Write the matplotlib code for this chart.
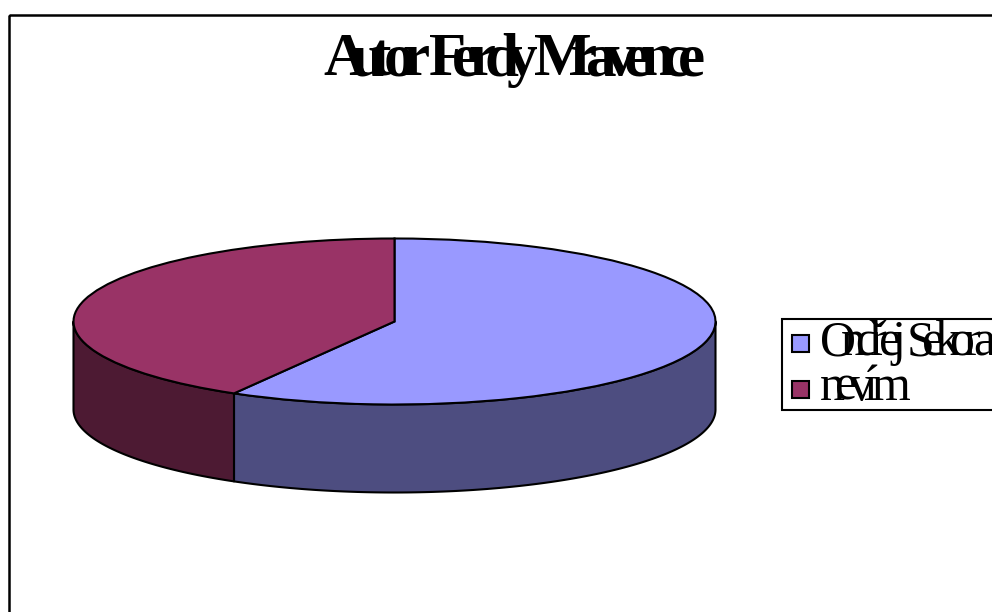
import numpy as np
import matplotlib
matplotlib.use("Agg")
import matplotlib.pyplot as plt
from matplotlib.font_manager import findfont, get_font
from matplotlib.ft2font import LoadFlags
from matplotlib.patches import Polygon, Rectangle
from matplotlib.text import Text
from matplotlib.transforms import Bbox

TITLE = "Autor Ferdy Mravence"
CATEGORIES = ["Ondřej Sekora", "nevím"]
VALUES = [7, 5]
TOP_COLORS = ["#9999FF", "#993366"]
SIDE_COLORS = ["#4D4D80", "#4D1A33"]

W, H = 992, 612
SERIF = "Liberation Serif"


class TightText(Text):
    """One text whose glyph advances are squeezed to fit a given pixel width."""

    def __init__(self, x, y, s, width_px, **kw):
        super().__init__(x, y, s, **kw)
        self.width_px = width_px

    def _advances(self):
        fp = self.get_fontproperties()
        font = get_font(findfont(fp))
        font.set_size(fp.get_size_in_points(), self.get_figure(root=True).dpi)
        adv = [font.load_char(ord(c), flags=LoadFlags.NO_HINTING).linearHoriAdvance / 65536
               for c in self.get_text()]
        return np.array(adv)

    def draw(self, renderer):
        adv = self._advances()
        scale = self.width_px / adv.sum()
        x0, y0 = self.get_transform().transform(self.get_position())
        gc = renderer.new_gc()
        gc.set_foreground(self.get_color())
        gc.set_antialiased(True)
        pos = x0
        for c, a in zip(self.get_text(), adv):
            if c != " ":
                renderer.draw_text(gc, pos, renderer.height - y0, c,
                                   self.get_fontproperties(), 0, ismath=False, mtext=None)
            pos += a * scale
        gc.restore()
        self.stale = False

    def get_window_extent(self, renderer=None, dpi=None):
        x0, y0 = self.get_transform().transform(self.get_position())
        size = self.get_fontproperties().get_size_in_points() * self.get_figure(root=True).dpi / 72
        return Bbox([[x0, y0 - 0.22 * size], [x0 + self.width_px, y0 + 0.7 * size]])


fig = plt.figure(figsize=(W / 100, H / 100), dpi=100, facecolor="white")

# Pie: an ellipse made by letting a normal pie fill a non-square axes
CX, CY, RX, RY, DEPTH = 394.5, 321.5, 321, 83, 88
ax = fig.add_axes([(CX - RX) / W, 1 - (CY + RY) / H, 2 * RX / W, 2 * RY / H])
wedges, _ = ax.pie(VALUES, colors=TOP_COLORS, startangle=90, counterclock=False,
                   wedgeprops=dict(edgecolor="black", linewidth=1.5, zorder=5))
ax.set_aspect("auto")
ax.set_xlim(-1, 1)
ax.set_ylim(-1, 1)
ax.axis("off")
d = DEPTH / RY

for wedge, col in zip(wedges, SIDE_COLORS):
    lo = wedge.theta1 % 360
    hi = lo + (wedge.theta2 - wedge.theta1)
    # keep the part of the rim that faces the viewer
    spans = [(max(lo, 180), min(hi, 360)), (max(lo - 360, 180), min(hi - 360, 360)),
             (max(lo + 360, 180), min(hi + 360, 360))]
    for a, b in spans:
        if b <= a:
            continue
        t = np.radians(np.linspace(a, b, 150))
        xs, ys = np.cos(t), np.sin(t)
        pts = np.r_[np.c_[xs, ys], np.c_[xs, ys - d][::-1]]
        ax.add_patch(Polygon(pts, closed=True, facecolor=col, edgecolor="black",
                             linewidth=1.5, clip_on=False, zorder=2, joinstyle="round"))
for wedge in wedges:
    wedge.set_clip_on(False)

# Overlay in pixel coordinates: chart frame, title, legend
ov = fig.add_axes([0, 0, 1, 1], facecolor="none")
ov.set_xlim(0, W)
ov.set_ylim(H, 0)
ov.axis("off")
ov.add_patch(Rectangle((9, 15), W + 20, H, fill=False, edgecolor="black", linewidth=1.8,
                       joinstyle="miter"))

ov.add_artist(TightText(323, 75, TITLE, 372, family=SERIF, fontsize=44, weight="bold",
                        color="black", transform=ov.transData))

ov.add_patch(Rectangle((781.5, 318.5), W, 91, facecolor="white", edgecolor="black", linewidth=1.5,
                       joinstyle="miter"))
LEGEND_WIDTHS = [166, 76]
for i, (lab, col) in enumerate(zip(CATEGORIES, TOP_COLORS)):
    y = 334.5 + i * 46
    ov.add_patch(Rectangle((791.5, y), 17, 17, facecolor=col, edgecolor="black", linewidth=1.5,
                           joinstyle="miter"))
    ov.add_artist(TightText(820, 355 + i * 45, lab, LEGEND_WIDTHS[i], family=SERIF, fontsize=36,
                            color="black", transform=ov.transData))

fig.savefig("out.png", dpi=100)
